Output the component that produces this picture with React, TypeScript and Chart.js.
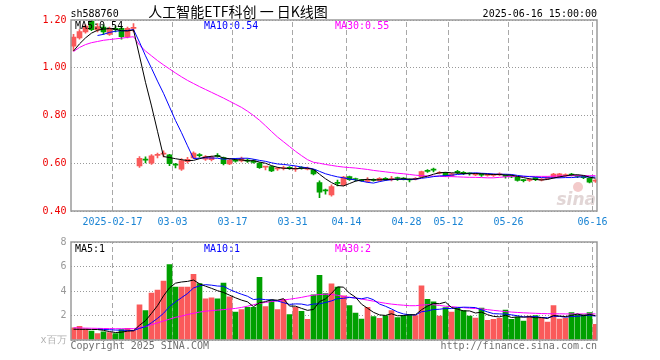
import React, { useEffect, useRef } from 'react';
import { Chart, registerables } from 'chart.js';

Chart.register(...registerables);

const RED = '#fa5a5a';
const GREEN = '#00a000';
const MONO = '"DejaVu Sans Mono", "Liberation Mono", monospace';

const stockCode = 'sh588760';
const titleText = '人工智能ETF科创 一 日K线图';
const timestamp = '2025-06-16 15:00:00';

const dates = [
  '2025-02-06','2025-02-07','2025-02-10','2025-02-11','2025-02-12','2025-02-13','2025-02-14','2025-02-17','2025-02-18','2025-02-19',
  '2025-02-20','2025-02-21','2025-02-24','2025-02-25','2025-02-26','2025-02-27','2025-02-28','2025-03-03','2025-03-04','2025-03-05',
  '2025-03-06','2025-03-07','2025-03-10','2025-03-11','2025-03-12','2025-03-13','2025-03-14','2025-03-17','2025-03-18','2025-03-19',
  '2025-03-20','2025-03-21','2025-03-24','2025-03-25','2025-03-26','2025-03-27','2025-03-28','2025-03-31','2025-04-01','2025-04-02',
  '2025-04-03','2025-04-07','2025-04-08','2025-04-09','2025-04-10','2025-04-11','2025-04-14','2025-04-15','2025-04-16','2025-04-17',
  '2025-04-18','2025-04-21','2025-04-22','2025-04-23','2025-04-24','2025-04-25','2025-04-28','2025-04-29','2025-04-30','2025-05-06',
  '2025-05-07','2025-05-08','2025-05-09','2025-05-12','2025-05-13','2025-05-14','2025-05-15','2025-05-16','2025-05-19','2025-05-20',
  '2025-05-21','2025-05-22','2025-05-23','2025-05-26','2025-05-27','2025-05-28','2025-05-29','2025-05-30','2025-06-03','2025-06-04',
  '2025-06-05','2025-06-06','2025-06-09','2025-06-10','2025-06-11','2025-06-12','2025-06-13','2025-06-16'
];

const tickDates = ['2025-02-17','2025-03-03','2025-03-17','2025-03-31','2025-04-14','2025-04-28','2025-05-12','2025-05-26','2025-06-16'];

const opens = [
  1.09,1.125,1.15,1.194,1.158,1.17,1.14,1.165,1.165,1.13,
  1.165,0.589,0.616,0.600,0.633,0.638,0.635,0.595,0.575,0.607,
  0.622,0.635,0.617,0.615,0.633,0.624,0.597,0.612,0.610,0.612,
  0.610,0.601,0.584,0.586,0.576,0.578,0.582,0.575,0.581,0.575,
  0.572,0.519,0.486,0.467,0.518,0.509,0.544,0.534,0.529,0.524,
  0.530,0.527,0.537,0.532,0.538,0.536,0.532,0.533,0.544,0.568,
  0.573,0.558,0.560,0.547,0.566,0.561,0.558,0.551,0.553,0.549,
  0.549,0.551,0.549,0.546,0.541,0.530,0.528,0.540,0.529,0.535,
  0.540,0.543,0.548,0.553,0.548,0.543,0.537,0.525
];
const highs = [
  1.14,1.16,1.18,1.20,1.185,1.18,1.17,1.175,1.17,1.17,
  1.185,0.628,0.627,0.636,0.643,0.652,0.637,0.600,0.620,0.625,
  0.648,0.641,0.632,0.630,0.640,0.626,0.618,0.620,0.626,0.618,
  0.615,0.603,0.587,0.588,0.583,0.588,0.586,0.587,0.586,0.584,
  0.574,0.526,0.492,0.510,0.530,0.545,0.546,0.538,0.533,0.540,
  0.535,0.540,0.540,0.545,0.542,0.540,0.535,0.540,0.567,0.574,
  0.580,0.565,0.562,0.558,0.570,0.565,0.560,0.558,0.556,0.556,
  0.555,0.560,0.552,0.550,0.543,0.533,0.536,0.541,0.536,0.543,
  0.558,0.558,0.556,0.558,0.550,0.546,0.539,0.532
];
const lows = [
  1.07,1.12,1.145,1.155,1.15,1.14,1.135,1.15,1.12,1.125,
  1.15,0.583,0.601,0.595,0.622,0.627,0.590,0.580,0.570,0.600,
  0.620,0.625,0.612,0.610,0.625,0.593,0.594,0.605,0.606,0.603,
  0.600,0.578,0.572,0.565,0.570,0.572,0.574,0.566,0.575,0.572,
  0.551,0.456,0.470,0.462,0.505,0.505,0.528,0.525,0.524,0.520,
  0.525,0.525,0.528,0.526,0.528,0.530,0.522,0.530,0.543,0.562,
  0.564,0.555,0.545,0.545,0.556,0.552,0.550,0.548,0.545,0.546,
  0.545,0.548,0.538,0.540,0.525,0.522,0.524,0.527,0.526,0.532,
  0.538,0.540,0.545,0.547,0.540,0.535,0.518,0.520
];
const closes = [
  1.128,1.152,1.175,1.16,1.172,1.15,1.165,1.16,1.13,1.165,
  1.168,0.621,0.613,0.631,0.636,0.640,0.598,0.592,0.611,0.616,
  0.643,0.632,0.628,0.625,0.629,0.598,0.613,0.609,0.621,0.609,
  0.603,0.582,0.586,0.568,0.578,0.581,0.579,0.578,0.579,0.578,
  0.555,0.479,0.484,0.502,0.516,0.542,0.531,0.532,0.527,0.533,
  0.528,0.537,0.531,0.535,0.536,0.534,0.530,0.536,0.565,0.566,
  0.571,0.561,0.547,0.556,0.561,0.558,0.556,0.554,0.550,0.552,
  0.553,0.555,0.545,0.543,0.528,0.527,0.531,0.531,0.532,0.540,
  0.555,0.556,0.553,0.550,0.545,0.540,0.521,0.527
];

const priceMA5 = [
  1.07,1.10,1.125,1.145,1.157,1.162,1.164,1.161,1.155,1.154,
  1.158,1.049,0.939,0.840,0.734,0.628,0.624,0.619,0.615,0.611,
  0.612,0.619,0.626,0.629,0.631,0.622,0.619,0.615,0.614,0.610,
  0.611,0.605,0.600,0.590,0.583,0.579,0.578,0.577,0.579,0.579,
  0.574,0.554,0.535,0.519,0.507,0.505,0.515,0.525,0.530,0.533,
  0.530,0.531,0.531,0.533,0.533,0.535,0.533,0.534,0.540,0.546,
  0.554,0.560,0.562,0.560,0.559,0.557,0.556,0.557,0.556,0.554,
  0.553,0.553,0.551,0.550,0.545,0.540,0.535,0.532,0.530,0.532,
  0.538,0.543,0.547,0.551,0.552,0.549,0.542,0.537
];
const priceMA10 = [
  null,null,null,null,1.135,1.140,1.148,1.153,1.155,1.156,
  1.160,1.107,1.050,0.998,0.944,0.893,0.836,0.779,0.728,0.673,
  0.620,0.621,0.623,0.622,0.621,0.617,0.619,0.620,0.621,0.621,
  0.617,0.612,0.608,0.602,0.597,0.595,0.592,0.589,0.584,0.581,
  0.576,0.566,0.556,0.549,0.543,0.539,0.534,0.530,0.525,0.520,
  0.517,0.523,0.528,0.531,0.533,0.532,0.532,0.533,0.537,0.540,
  0.544,0.547,0.548,0.550,0.553,0.555,0.558,0.560,0.558,0.557,
  0.555,0.554,0.554,0.553,0.549,0.546,0.544,0.542,0.540,0.539,
  0.539,0.539,0.540,0.540,0.542,0.543,0.542,0.542
];
const priceMA30 = [
  1.068,1.085,1.097,1.105,1.110,1.115,1.118,1.121,1.124,1.127,
  1.130,1.095,1.070,1.050,1.030,1.012,0.995,0.978,0.962,0.947,
  0.934,0.921,0.909,0.897,0.885,0.873,0.860,0.847,0.834,0.818,
  0.800,0.780,0.757,0.733,0.710,0.690,0.670,0.650,0.632,0.615,
  0.604,0.600,0.595,0.591,0.587,0.584,0.582,0.580,0.577,0.574,
  0.570,0.567,0.564,0.561,0.558,0.556,0.553,0.550,0.548,0.547,
  0.546,0.545,0.544,0.544,0.543,0.542,0.541,0.541,0.540,0.539,
  0.539,0.541,0.543,0.545,0.545,0.545,0.545,0.545,0.545,0.545,
  0.546,0.547,0.547,0.548,0.548,0.548,0.548,0.548
];

const volumes = [
  0.99,1.12,0.91,0.72,0.53,0.67,0.61,0.53,0.85,0.96,
  0.80,2.88,2.40,3.84,4.08,4.80,6.16,4.32,4.32,4.32,
  5.36,4.61,3.36,3.44,3.36,4.64,3.52,2.27,2.48,2.67,
  2.67,5.12,2.72,3.25,2.48,3.33,2.08,2.67,2.35,1.68,
  3.68,5.28,3.79,4.59,4.32,3.60,2.80,2.19,1.71,2.67,
  1.92,1.76,1.97,2.40,1.84,2.00,2.08,2.00,4.43,3.31,
  3.12,1.95,2.64,2.27,2.61,2.40,1.95,1.79,2.61,1.60,
  1.68,1.76,2.45,1.68,1.87,1.55,1.95,2.00,1.79,1.47,
  2.80,1.71,1.79,2.24,2.08,2.08,2.24,1.28
];
const volMA5 = [
  0.88,0.87,0.87,0.86,0.854,0.79,0.688,0.612,0.638,0.724,
  0.75,1.204,1.578,2.176,2.8,3.6,4.256,4.64,4.736,4.784,
  4.896,4.586,4.394,4.218,4.026,3.882,3.664,3.446,3.254,3.116,
  2.722,3.042,3.132,3.286,3.248,3.38,2.772,2.762,2.582,2.422,
  2.492,3.132,3.356,3.804,4.332,4.316,3.82,3.5,2.924,2.594,
  2.258,2.05,2.006,2.144,1.978,1.994,2.058,2.064,2.47,2.764,
  2.988,2.962,3.09,2.658,2.518,2.374,2.374,2.204,2.272,2.07,
  1.926,1.888,2.02,1.834,1.888,1.862,1.9,1.81,1.832,1.752,
  2.002,1.954,1.912,2.002,2.124,1.98,2.086,1.984
];
const volMA10 = [
  null,null,null,null,0.88,0.86,0.84,0.81,0.80,0.789,
  0.77,0.946,1.095,1.407,1.762,2.175,2.73,3.109,3.456,3.792,
  4.248,4.421,4.517,4.477,4.405,4.389,4.125,3.92,3.736,3.571,
  3.302,3.353,3.289,3.27,3.182,3.051,2.907,2.947,2.934,2.835,
  2.936,2.952,3.059,3.193,3.377,3.404,3.476,3.428,3.364,3.463,
  3.287,2.935,2.753,2.534,2.286,2.126,2.054,2.035,2.307,2.371,
  2.491,2.51,2.577,2.564,2.641,2.681,2.668,2.647,2.465,2.294,
  2.15,2.131,2.112,2.053,1.979,1.894,1.894,1.915,1.833,1.82,
  1.932,1.927,1.861,1.917,1.938,1.991,2.02,1.948
];
const volMA30 = [
  1.0,0.98,0.97,0.96,0.95,0.94,0.93,0.92,0.92,0.92,
  0.93,1.0,1.1,1.25,1.4,1.55,1.7,1.85,1.95,2.08,
  2.18,2.28,2.35,2.4,2.44,2.48,2.53,2.58,2.66,2.76,
  2.88,3.0,3.07,3.14,3.2,3.27,3.33,3.4,3.48,3.58,
  3.66,3.71,3.74,3.72,3.65,3.56,3.49,3.42,3.34,3.26,
  3.17,3.08,3.0,2.93,2.88,2.84,2.8,2.8,2.85,2.88,
  2.88,2.82,2.76,2.72,2.68,2.64,2.6,2.57,2.54,2.48,
  2.42,2.37,2.32,2.28,2.25,2.22,2.2,2.18,2.16,2.15,
  2.14,2.14,2.13,2.13,2.13,2.13,2.13,2.13
];

const tickIdx = tickDates.map((d) => dates.indexOf(d));
const tickText = (k: number) => (k === 0 ? tickDates[k] : tickDates[k].slice(5));
const last = (arr: any[]) => arr[arr.length - 1];

function drawFrame(chart: any) {
  const { ctx, chartArea: a } = chart;
  ctx.save();
  ctx.strokeStyle = '#9a9a9a';
  ctx.lineWidth = 1.5;
  const l = Math.round(a.left), t = Math.round(a.top), r = Math.round(a.right), b = Math.round(a.bottom);
  ctx.strokeRect(l, t, r - l, b - t);
  ctx.restore();
}

// vertical dashed grid lines at the labelled dates, drawn as a line dataset on the x scale
function gridDs(lo: number, hi: number) {
  const pts: any[] = [];
  tickIdx.forEach((v) => {
    pts.push({ x: v, y: lo }, { x: v, y: hi }, { x: v + 0.01, y: null });
  });
  return {
    type: 'line',
    label: 'vgrid',
    data: pts,
    borderColor: '#a8a8a8',
    borderWidth: 1,
    borderDash: [5, 3],
    pointRadius: 0,
    spanGaps: false,
    tension: 0,
    fill: false,
    order: 10,
  };
}

function makeX(showLabels: boolean, axisHeight: number) {
  return {
    type: 'linear',
    min: 0,
    max: 87.75,
    offset: false,
    afterBuildTicks: (axis: any) => {
      axis.ticks = tickIdx.map((v) => ({ value: v }));
    },
    afterFit: (s: any) => {
      s.height = axisHeight;
    },
    ticks: {
      display: showLabels,
      autoSkip: false,
      maxRotation: 0,
      minRotation: 0,
      color: '#1a84d4',
      font: { family: MONO, size: 10 },
      padding: 5,
      callback: (v: any) => {
        const k = tickIdx.indexOf(Number(v));
        return k >= 0 ? tickText(k) : '';
      },
    },
    grid: { display: false, offset: false, drawTicks: false },
    border: { display: false },
  };
}

export default function App() {
  const priceRef = useRef<HTMLCanvasElement>(null);
  const volRef = useRef<HTMLCanvasElement>(null);

  useEffect(() => {
    const candleColors = closes.map((c, i) => (c >= opens[i] ? RED : GREEN));
    const lineDs = (label: string, arr: any[], color: string) => ({
      type: 'line',
      label,
      data: arr.map((v, i) => ({ x: i + 0.5, y: v })),
      borderColor: color,
      borderWidth: 1,
      pointRadius: 0,
      tension: 0,
      fill: false,
      order: 0,
    });

    const pricePlugin = {
      id: 'priceDecor',
      beforeDatasetsDraw(chart: any) {
        const { ctx, chartArea: a } = chart;
        ctx.save();
        ctx.font = 'italic bold 17px "DejaVu Sans", sans-serif';
        ctx.fillStyle = '#e2d6d6';
        ctx.textAlign = 'right';
        ctx.fillText('sina', a.right - 1, a.bottom - 6);
        ctx.fillStyle = '#f3caca';
        ctx.beginPath();
        ctx.arc(a.right - 19, a.bottom - 24, 5, 0, Math.PI * 2);
        ctx.fill();
        ctx.restore();
      },
      afterDraw(chart: any) {
        drawFrame(chart);
        const { ctx, chartArea: a } = chart;
        ctx.save();
        ctx.textBaseline = 'alphabetic';
        ctx.font = `10px ${MONO}`;
        ctx.fillStyle = '#000';
        ctx.textAlign = 'left';
        ctx.fillText(stockCode, a.left, a.top - 3);
        ctx.textAlign = 'right';
        ctx.fillText(timestamp, a.right, a.top - 3.5);
        ctx.font = '14px "Noto Sans CJK SC", sans-serif';
        ctx.textAlign = 'center';
        ctx.fillText(titleText, 238, a.top - 3);
        ctx.font = `10px ${MONO}`;
        ctx.textAlign = 'left';
        ctx.fillStyle = '#000';
        ctx.fillText('MA5:' + last(priceMA5).toFixed(2), a.left + 4.5, a.top + 9);
        ctx.fillStyle = '#0000ff';
        ctx.fillText('MA10:' + last(priceMA10).toFixed(2), a.left + 133.5, a.top + 9);
        ctx.fillStyle = '#ff00ff';
        ctx.fillText('MA30:' + last(priceMA30).toFixed(2), a.left + 264.5, a.top + 9);
        ctx.restore();
      },
    };

    const volPlugin = {
      id: 'volDecor',
      afterDraw(chart: any) {
        drawFrame(chart);
        const { ctx, chartArea: a } = chart;
        ctx.save();
        ctx.font = `10px ${MONO}`;
        ctx.textAlign = 'left';
        ctx.fillStyle = '#000';
        ctx.fillText('MA5:' + Math.floor(last(volMA5)), a.left + 4.5, a.top + 10);
        ctx.fillStyle = '#0000ff';
        ctx.fillText('MA10:' + Math.floor(last(volMA10)), a.left + 133.5, a.top + 10);
        ctx.fillStyle = '#ff00ff';
        ctx.fillText('MA30:' + Math.floor(last(volMA30)), a.left + 264.5, a.top + 10);
        ctx.fillStyle = '#707070';
        ctx.fillText('Copyright 2025 SINA.COM', a.left, a.bottom + 9);
        ctx.textAlign = 'right';
        ctx.fillText('http://finance.sina.com.cn', a.right, a.bottom + 9);
        ctx.restore();
      },
    };

    const priceChart = new Chart(priceRef.current as HTMLCanvasElement, {
      type: 'bar',
      data: {
        datasets: [
          lineDs('MA5', priceMA5, '#000000'),
          lineDs('MA10', priceMA10, '#0000ff'),
          lineDs('MA30', priceMA30, '#ff00ff'),
          {
            type: 'bar',
            label: 'body',
            data: opens.map((o, i) => ({ x: i + 0.5, y: [o, closes[i]] })),
            backgroundColor: candleColors,
            barThickness: 5,
            minBarLength: 1,
            grouped: false,
            order: 1,
          },
          {
            type: 'bar',
            label: 'wick',
            data: lows.map((l, i) => ({ x: i + 0.5, y: [l, highs[i]] })),
            backgroundColor: candleColors,
            barThickness: 1,
            minBarLength: 1,
            grouped: false,
            order: 2,
          },
          gridDs(0.4, 1.2),
        ] as any,
      },
      options: {
        animation: false,
        responsive: false,
        maintainAspectRatio: false,
        layout: { padding: { top: 20, right: 63, left: 0, bottom: 0 } },
        plugins: { legend: { display: false }, tooltip: { enabled: false } },
        scales: {
          x: makeX(true, 21) as any,
          y: {
            min: 0.4,
            max: 1.2,
            afterFit: (s: any) => {
              s.width = 70.5;
            },
            ticks: {
              stepSize: 0.2,
              color: '#ee0000',
              font: { family: MONO, size: 10 },
              padding: 4,
              callback: (v: any) => Number(v).toFixed(2),
            },
            grid: { color: '#999999', lineWidth: 1, drawTicks: false },
            border: { display: false, dash: [1, 2] },
          },
        },
      },
      plugins: [pricePlugin],
    } as any);

    const volChart = new Chart(volRef.current as HTMLCanvasElement, {
      type: 'bar',
      data: {
        datasets: [
          lineDs('MA5', volMA5, '#000000'),
          lineDs('MA10', volMA10, '#0000ff'),
          lineDs('MA30', volMA30, '#ff00ff'),
          {
            type: 'bar',
            label: 'volume',
            data: volumes.map((v, i) => ({ x: i + 0.5, y: v })),
            backgroundColor: candleColors,
            barThickness: 5,
            grouped: false,
            order: 1,
          },
          gridDs(0, 8),
        ] as any,
      },
      options: {
        animation: false,
        responsive: false,
        maintainAspectRatio: false,
        layout: { padding: { top: 8, right: 63, left: 0, bottom: 0 } },
        plugins: { legend: { display: false }, tooltip: { enabled: false } },
        scales: {
          x: makeX(false, 20) as any,
          y: {
            min: 0,
            max: 8,
            afterFit: (s: any) => {
              s.width = 70.5;
            },
            ticks: {
              stepSize: 2,
              color: (c: any) => (c.tick && c.tick.value === 0 ? '#b0b0b0' : '#999999'),
              font: { family: MONO, size: 10 },
              padding: 4,
              callback: (v: any) => (Number(v) === 0 ? 'x百万' : String(v)),
            },
            grid: { color: '#999999', lineWidth: 1, drawTicks: false },
            border: { display: false, dash: [1, 2] },
          },
        },
      },
      plugins: [volPlugin],
    } as any);

    return () => {
      priceChart.destroy();
      volChart.destroy();
    };
  }, []);

  return (
    <div style={{ position: 'absolute', left: 0, top: 0, width: 660, height: 360, background: '#fff' }}>
      <canvas ref={priceRef} width={660} height={232} style={{ position: 'absolute', left: 0, top: 0, width: 660, height: 232 }} />
      <canvas ref={volRef} width={660} height={128} style={{ position: 'absolute', left: 0, top: 232, width: 660, height: 128 }} />
    </div>
  );
}
